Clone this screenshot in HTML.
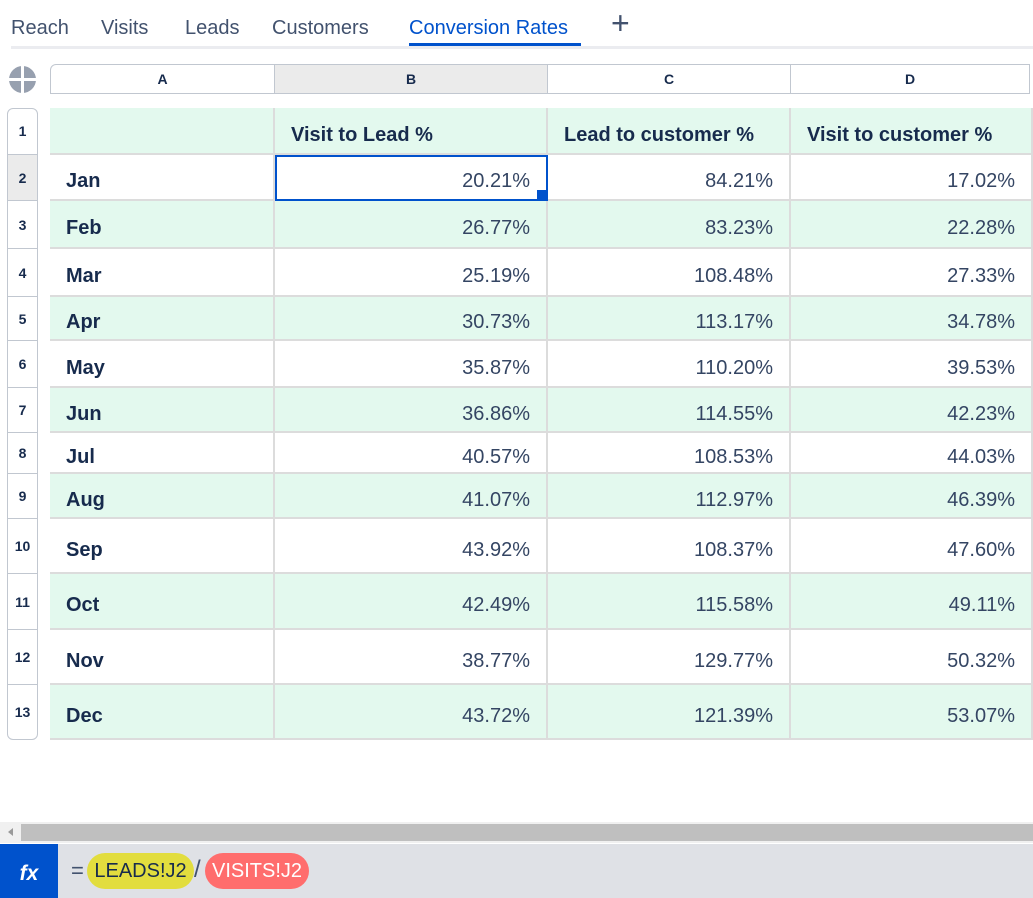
<!DOCTYPE html>
<html><head><meta charset="utf-8"><style>
body{margin:0;width:1033px;height:898px;background:#fff;position:relative;overflow:hidden;font-family:"Liberation Sans",sans-serif;color:#172b4d}
.a{position:absolute;box-sizing:border-box}
.tab{position:absolute;top:17px;font-size:20px;color:#42526e}
.c{position:absolute;box-sizing:border-box;display:flex;align-items:center;font-size:20px;padding-top:9px;border-right:2px solid #dcdcdc;border-bottom:2px solid #dcdcdc}
.g{background:#e3f9ee}
.r{justify-content:flex-end;padding-right:16px;color:#344563}
.b{font-weight:bold;padding-left:16px}
.n{position:absolute;left:7px;width:31px;display:flex;align-items:center;justify-content:center;font-size:14px;font-weight:bold;border-bottom:1px solid #c1c7d0;box-sizing:border-box}
.h{position:absolute;top:64px;height:30px;display:flex;align-items:center;justify-content:center;font-size:14px;font-weight:bold;border:1px solid #c1c7d0;box-sizing:border-box;border-left:none}
</style></head><body>
<div class="tab" style="left:11px">Reach</div>
<div class="tab" style="left:101px">Visits</div>
<div class="tab" style="left:185px">Leads</div>
<div class="tab" style="left:272px">Customers</div>
<div class="tab" style="left:409px;color:#0052cc">Conversion Rates</div>
<div class="a" style="left:409px;top:43px;width:172px;height:3px;background:#0052cc"></div>
<div class="tab" style="left:611px;top:5px;font-size:32px;font-weight:300">+</div>
<div class="a" style="left:11px;top:46px;width:1022px;height:3px;background:#ebecf0"></div>
<div class="a" style="left:9px;top:66px;width:27px;height:27px;border-radius:50%;background:#97a0af"></div>
<div class="a" style="left:21px;top:66px;width:3px;height:27px;background:#fff"></div>
<div class="a" style="left:9px;top:78px;width:27px;height:3px;background:#fff"></div>
<div class="h" style="left:50px;width:225px;border-left:1px solid #c1c7d0;border-radius:6px 0 0 0">A</div>
<div class="h" style="left:275px;width:273px;background:#ebebeb">B</div>
<div class="h" style="left:548px;width:243px">C</div>
<div class="h" style="left:791px;width:239px">D</div>
<div class="a" style="left:7px;top:108px;width:31px;height:632px;border:1px solid #c1c7d0;border-radius:6px"></div>
<div class="a" style="left:8px;top:155px;width:29px;height:46px;background:#ebebeb"></div>
<div class="n" style="top:108px;height:47px">1</div>
<div class="n" style="top:155px;height:46px">2</div>
<div class="n" style="top:201px;height:48px">3</div>
<div class="n" style="top:249px;height:48px">4</div>
<div class="n" style="top:297px;height:44px">5</div>
<div class="n" style="top:341px;height:47px">6</div>
<div class="n" style="top:388px;height:45px">7</div>
<div class="n" style="top:433px;height:41px">8</div>
<div class="n" style="top:474px;height:45px">9</div>
<div class="n" style="top:519px;height:55px">10</div>
<div class="n" style="top:574px;height:56px">11</div>
<div class="n" style="top:630px;height:55px">12</div>
<div class="n" style="top:685px;height:54px;border-bottom:none">13</div>

<div class="c g" style="left:50px;top:108px;width:225px;height:47px"></div>
<div class="c g b" style="left:275px;top:108px;width:273px;height:47px">Visit to Lead %</div>
<div class="c g b" style="left:548px;top:108px;width:243px;height:47px">Lead to customer %</div>
<div class="c g b" style="left:791px;top:108px;width:242px;height:47px">Visit to customer %</div>

<div class="c b" style="left:50px;top:155px;width:225px;height:46px">Jan</div><div class="c r" style="left:275px;top:155px;width:273px;height:46px">20.21%</div><div class="c r" style="left:548px;top:155px;width:243px;height:46px">84.21%</div><div class="c r" style="left:791px;top:155px;width:242px;height:46px">17.02%</div>
<div class="c g b" style="left:50px;top:201px;width:225px;height:48px">Feb</div><div class="c g r" style="left:275px;top:201px;width:273px;height:48px">26.77%</div><div class="c g r" style="left:548px;top:201px;width:243px;height:48px">83.23%</div><div class="c g r" style="left:791px;top:201px;width:242px;height:48px">22.28%</div>
<div class="c b" style="left:50px;top:249px;width:225px;height:48px">Mar</div><div class="c r" style="left:275px;top:249px;width:273px;height:48px">25.19%</div><div class="c r" style="left:548px;top:249px;width:243px;height:48px">108.48%</div><div class="c r" style="left:791px;top:249px;width:242px;height:48px">27.33%</div>
<div class="c g b" style="left:50px;top:297px;width:225px;height:44px">Apr</div><div class="c g r" style="left:275px;top:297px;width:273px;height:44px">30.73%</div><div class="c g r" style="left:548px;top:297px;width:243px;height:44px">113.17%</div><div class="c g r" style="left:791px;top:297px;width:242px;height:44px">34.78%</div>
<div class="c b" style="left:50px;top:341px;width:225px;height:47px">May</div><div class="c r" style="left:275px;top:341px;width:273px;height:47px">35.87%</div><div class="c r" style="left:548px;top:341px;width:243px;height:47px">110.20%</div><div class="c r" style="left:791px;top:341px;width:242px;height:47px">39.53%</div>
<div class="c g b" style="left:50px;top:388px;width:225px;height:45px">Jun</div><div class="c g r" style="left:275px;top:388px;width:273px;height:45px">36.86%</div><div class="c g r" style="left:548px;top:388px;width:243px;height:45px">114.55%</div><div class="c g r" style="left:791px;top:388px;width:242px;height:45px">42.23%</div>
<div class="c b" style="left:50px;top:433px;width:225px;height:41px">Jul</div><div class="c r" style="left:275px;top:433px;width:273px;height:41px">40.57%</div><div class="c r" style="left:548px;top:433px;width:243px;height:41px">108.53%</div><div class="c r" style="left:791px;top:433px;width:242px;height:41px">44.03%</div>
<div class="c g b" style="left:50px;top:474px;width:225px;height:45px">Aug</div><div class="c g r" style="left:275px;top:474px;width:273px;height:45px">41.07%</div><div class="c g r" style="left:548px;top:474px;width:243px;height:45px">112.97%</div><div class="c g r" style="left:791px;top:474px;width:242px;height:45px">46.39%</div>
<div class="c b" style="left:50px;top:519px;width:225px;height:55px">Sep</div><div class="c r" style="left:275px;top:519px;width:273px;height:55px">43.92%</div><div class="c r" style="left:548px;top:519px;width:243px;height:55px">108.37%</div><div class="c r" style="left:791px;top:519px;width:242px;height:55px">47.60%</div>
<div class="c g b" style="left:50px;top:574px;width:225px;height:56px">Oct</div><div class="c g r" style="left:275px;top:574px;width:273px;height:56px">42.49%</div><div class="c g r" style="left:548px;top:574px;width:243px;height:56px">115.58%</div><div class="c g r" style="left:791px;top:574px;width:242px;height:56px">49.11%</div>
<div class="c b" style="left:50px;top:630px;width:225px;height:55px">Nov</div><div class="c r" style="left:275px;top:630px;width:273px;height:55px">38.77%</div><div class="c r" style="left:548px;top:630px;width:243px;height:55px">129.77%</div><div class="c r" style="left:791px;top:630px;width:242px;height:55px">50.32%</div>
<div class="c g b" style="left:50px;top:685px;width:225px;height:55px">Dec</div><div class="c g r" style="left:275px;top:685px;width:273px;height:55px">43.72%</div><div class="c g r" style="left:548px;top:685px;width:243px;height:55px">121.39%</div><div class="c g r" style="left:791px;top:685px;width:242px;height:55px">53.07%</div>

<div class="a" style="left:275px;top:155px;width:273px;height:46px;border:2px solid #0052cc"></div>
<div class="a" style="left:537px;top:190px;width:9px;height:9px;background:#0052cc"></div>

<div class="a" style="left:0;top:822px;width:1033px;height:21px;background:#f0f0f0"></div>
<div class="a" style="left:21px;top:824px;width:1012px;height:17px;background:#bfbfbf"></div>
<div class="a" style="left:8px;top:828px;width:0;height:0;border-top:4px solid transparent;border-bottom:4px solid transparent;border-right:5px solid #999"></div>
<div class="a" style="left:0;top:844px;width:1033px;height:54px;background:#dfe1e6"></div>
<div class="a" style="left:0;top:844px;width:58px;height:54px;background:#0052cc;color:#fff;font:italic bold 21px 'Liberation Sans',sans-serif;display:flex;align-items:center;justify-content:center;padding-top:6px">fx</div>
<div class="a" style="left:71px;top:858px;font-size:22px;color:#42526e">=</div>
<div class="a" style="left:87px;top:853px;width:107px;height:36px;border-radius:18px;background:#e2dd3e;font-size:20px;color:#172b4d;display:flex;align-items:center;justify-content:center">LEADS!J2</div>
<div class="a" style="left:194px;top:856px;font-size:24px;color:#42526e">/</div>
<div class="a" style="left:205px;top:853px;width:104px;height:36px;border-radius:18px;background:#ff6d6d;font-size:20px;color:#fff;display:flex;align-items:center;justify-content:center">VISITS!J2</div>
</body></html>
